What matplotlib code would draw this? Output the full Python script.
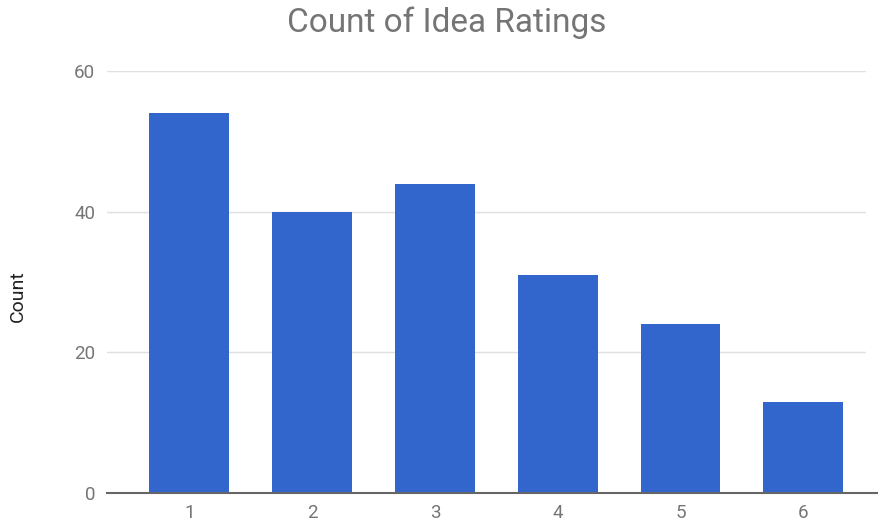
import matplotlib.pyplot as plt

ratings = ["1", "2", "3", "4", "5", "6"]
counts = [54, 40, 44, 31, 24, 13]
y_ticks = [0, 20, 40, 60]

plt.rcParams["font.family"] = ["Roboto", "DejaVu Sans"]

fig = plt.figure(figsize=(8.79, 5.24), dpi=100)
ax = fig.add_axes([0.1217, 0.0592, 0.8635, 0.8053])

pos = list(range(1, len(ratings) + 1))
ax.bar(pos, counts, width=0.65, color="#3366cc", zorder=3)

ax.set_xlim(0.33, 6.51)
ax.set_ylim(0, 60)
ax.set_xticks(pos)
ax.set_xticklabels(ratings)
ax.set_yticks(y_ticks)
ax.yaxis.grid(True, color="#e0e0e0", lw=1, zorder=0)
ax.tick_params(axis="both", length=0, labelsize=13.5, labelcolor="#757575")
ax.tick_params(axis="y", pad=8.5)
ax.tick_params(axis="x", pad=8)

for s in ax.spines.values():
    s.set_visible(False)
# baseline runs past the plot area to the image edge
ax.plot([0, 1.02], [0, 0], transform=ax.get_yaxis_transform(),
        color="#666666", lw=1.5, clip_on=False, zorder=4)

fig.text(17.5 / 879, 1 - 296 / 524, "Count", rotation=90, ha="center",
         va="center", fontsize=14, color="#222222")
fig.text(447 / 879, 1 - 23 / 524, "Count of Idea Ratings", ha="center",
         va="center", fontsize=24, color="#757575")

fig.savefig("out.png", dpi=100)
